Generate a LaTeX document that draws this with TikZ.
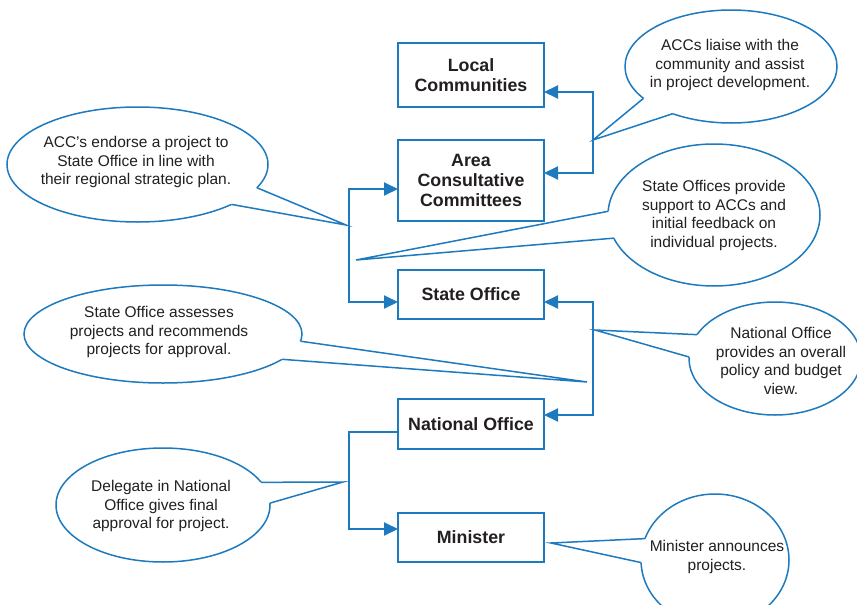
\documentclass[tikz,border=0pt]{standalone}
\usepackage{fontspec}
\setmainfont{Liberation Sans}
\usetikzlibrary{shapes.geometric,arrows.meta}
\definecolor{flowblue}{RGB}{29,122,190}
\definecolor{inkgray}{RGB}{35,31,32}

\tikzset{
  unitbox/.style={draw=flowblue, line width=2pt, fill=white, minimum width=146pt,
    inner sep=0pt, outer sep=0pt, align=center, text=inkgray,
    font=\fontsize{17.8}{20}\selectfont\bfseries},
  bubble/.style={ellipse, draw=flowblue, line width=1.5pt, fill=white,
    inner sep=0pt, outer sep=0pt},
  bubbletext/.style={align=center, text=inkgray, inner sep=0pt,
    font=\fontsize{15.5}{18.6}\selectfont},
  tailline/.style={draw=flowblue, line width=1.5pt, line join=miter},
  link/.style={draw=flowblue, line width=2pt, line join=miter},
  twoheads/.style={arrows={Triangle[length=14pt,width=13pt]-Triangle[length=14pt,width=13pt]}},
  onehead/.style={arrows={-Triangle[length=14pt,width=13pt]}},
}

\begin{document}
\begin{tikzpicture}[x=1pt,y=-1pt]
\useasboundingbox (0,0) rectangle (857,605);
\clip (0,0) rectangle (857,605);

% ---------- speech bubbles ----------
% tail tips
\coordinate (tipA) at (593,140);
\coordinate (tipB) at (346,225);
\coordinate (tipC) at (356,260);
\coordinate (tipD) at (587,382);
\coordinate (tipE) at (595,330);
\coordinate (tipF) at (343,482);
\coordinate (tipG) at (551,543);

\node[bubble, minimum width=212pt, minimum height=113pt] (bA) at (731,66.5) {};
\fill[white] (bA.200) -- (tipA) -- (bA.219) -- (bA.center) -- cycle;
\draw[tailline] (bA.200) -- (tipA) -- (bA.219);
\node[bubbletext] (tA) at (730,65) {ACCs liaise with the\\community and assist\\in project development.};

\node[bubble, minimum width=261pt, minimum height=115pt] (bB) at (137.5,164.5) {};
\fill[white] (bB.349) -- (tipB) -- (bB.337) -- (bB.center) -- cycle;
\draw[tailline] (bB.349) -- (tipB) -- (bB.337);
\node[bubbletext] (tB) at (136,162) {ACC's endorse a project to\\State Office in line with\\their regional strategic plan.};

\node[bubble, minimum width=212pt, minimum height=142pt] (bC) at (714,215) {};
\fill[white] (bC.178.4) -- (tipC) -- (bC.193.6) -- (bC.center) -- cycle;
\draw[tailline] (bC.178.4) -- (tipC) -- (bC.193.6);
\node[bubbletext] (tC) at (714,215.5) {State Offices provide\\support to ACCs and\\initial feedback on\\individual projects.};

\node[bubble, minimum width=278pt, minimum height=98pt] (bD) at (163,334) {};
\fill[white] (bD.357.5) -- (tipD) -- (bD.348.7) -- (bD.center) -- cycle;
\draw[tailline] (bD.357.5) -- (tipD) -- (bD.348.7);
\node[bubbletext] (tD) at (159,332) {State Office assesses\\projects and recommends\\projects for approval.};

\node[bubble, minimum width=172pt, minimum height=113pt] (bE) at (775,358.5) {};
\fill[white] (bE.163) -- (tipE) -- (bE.179) -- (bE.center) -- cycle;
\draw[tailline] (bE.163) -- (tipE) -- (bE.179);
\node[bubbletext] (tE) at (781,361) {National Office\\provides an overall\\policy and budget\\view.};

\node[bubble, minimum width=214pt, minimum height=114pt] (bF) at (163,505) {};
\fill[white] (bF.13.7) -- (tipF) -- (bF.1.6) -- (bF.center) -- cycle;
\draw[tailline] (bF.13.7) -- (tipF) -- (bF.1.6);
\node[bubbletext] (tF) at (161,506) {Delegate in National\\Office gives final\\approval for project.};

\node[bubble, minimum width=148pt, minimum height=132pt] (bG) at (715,560) {};
\fill[white] (bG.163) -- (tipG) -- (bG.182) -- (bG.center) -- cycle;
\draw[tailline] (bG.163) -- (tipG) -- (bG.182);
\node[bubbletext] (tG) at (717,557) {Minister announces\\projects.};

% ---------- organisation boxes ----------
\node[unitbox, minimum height=64pt] (LC)  at (471,75)    {Local\\Communities};
\node[unitbox, minimum height=81pt] (ACC) at (471,180.5) {Area\\Consultative\\Committees};
\node[unitbox, minimum height=49pt] (SO)  at (471,294.5) {State Office};
\node[unitbox, minimum height=50pt] (NO)  at (471,424)   {National Office};
\node[unitbox, minimum height=49pt] (MIN) at (471,537.5) {Minister};

% ---------- connectors ----------
\coordinate (ra1) at (593,92);
\coordinate (ra2) at (593,173);
\draw[link,twoheads] (LC.east |- ra1) -- (ra1) -- (ra2) -- (ACC.east |- ra2);

\coordinate (la1) at (349,189);
\coordinate (la2) at (349,302);
\draw[link,twoheads] (ACC.west |- la1) -- (la1) -- (la2) -- (SO.west |- la2);

\coordinate (rb1) at (593,302);
\coordinate (rb2) at (593,415);
\draw[link,twoheads] (SO.east |- rb1) -- (rb1) -- (rb2) -- (NO.east |- rb2);

\coordinate (lb1) at (349,432);
\coordinate (lb2) at (349,529);
\draw[link,onehead] (NO.west |- lb1) -- (lb1) -- (lb2) -- (MIN.west |- lb2);
\end{tikzpicture}
\end{document}
